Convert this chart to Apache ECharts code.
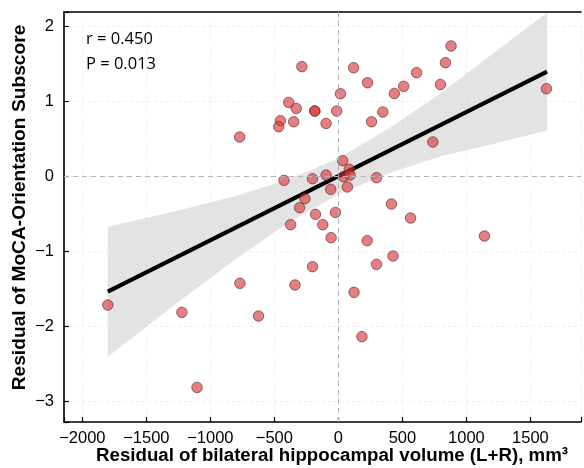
<!DOCTYPE html>
<html>
<head>
<meta charset="utf-8">
<script src="https://cdn.jsdelivr.net/npm/echarts@6/dist/echarts.min.js"></script>
<style>
html,body{margin:0;padding:0;background:#fff;}
#chart{width:584px;height:468px;}
</style>
</head>
<body>
<div id="chart"></div>
<script>
// ---- data ----
const pointX = [-285, 119, 836, 611, 228, 797, 510, 437, 16, 1625,
  -388, -329, -184, -184, -13, 347, -453, -349, -466, -96,
  259, -771, 738, 34, 85, 39, 91, -96, -202, -425,
  298, -60, 70, -261, -303, 414, -179, -23, -373, -122,
  564, -57, 225, 1141, 427, 298, -202, -769, -339, 122,
  -1801, -1222, -624, 184, -1104, 880];
const pointY = [1.467, 1.453, 1.52, 1.387, 1.253, 1.23, 1.205, 1.11, 1.107, 1.173,
  0.99, 0.91, 0.876, 0.876, 0.876, 0.863, 0.747, 0.733, 0.667, 0.71,
  0.733, 0.529, 0.463, 0.213, 0.098, 0.0, 0.022, 0.022, -0.027, -0.049,
  -0.013, -0.169, -0.137, -0.293, -0.413, -0.364, -0.502, -0.476, -0.64, -0.64,
  -0.551, -0.813, -0.853, -0.791, -1.057, -1.169, -1.2, -1.422, -1.444, -1.542,
  -1.711, -1.809, -1.858, -2.133, -2.81, 1.743];

// regression line end points
const lineX = [-1801, 1630];
const lineY = [-1.533, 1.401];

// confidence band
const bandX = [-1801, -1250, -800, -400, 0, 400, 800, 1200, 1630];
const bandUpper = [-0.666, -0.452, -0.257, -0.045, 0.247, 0.649, 1.111, 1.633, 2.186];
const bandLower = [-2.40, -1.672, -1.097, -0.625, -0.233, 0.049, 0.271, 0.433, 0.616];

const statLines = ['r = 0.450', 'P = 0.013'];
const xTitle = 'Residual of bilateral hippocampal volume (L+R), mm\u00B3';
const yTitle = 'Residual of MoCA-Orientation Subscore';

// ---- chart ----
const chart = echarts.init(document.getElementById('chart'), null, {renderer: 'canvas'});

const X_MIN = -2143, X_MAX = 1895, Y_MIN = -3.271, Y_MAX = 2.196;

function fmt(step) {
  return function (v) {
    if (Math.abs(v / step - Math.round(v / step)) > 1e-6) return '';
    const n = Math.round(v);
    return n < 0 ? '\u2212' + Math.abs(n) : String(n);
  };
}

const scatterData = pointX.map((x, i) => [x, pointY[i]]);
const lineData = lineX.map((x, i) => [x, lineY[i]]);

const option = {
  animation: false,
  backgroundColor: '#ffffff',
  grid: {left: 64, top: 12, right: 0, bottom: 46},
  xAxis: [{
    type: 'value', min: X_MIN, max: X_MAX, minInterval: 500, maxInterval: 500, splitNumber: 8,
    axisLine: {show: true, onZero: false, lineStyle: {color: '#000', width: 1.6}},
    axisTick: {show: true, inside: true, length: 5, lineStyle: {color: '#000', width: 1.2}},
    axisLabel: {formatter: fmt(500), color: '#000', fontSize: 16.5, fontFamily: 'Liberation Sans', margin: 8},
    splitLine: {show: true, lineStyle: {color: '#efefef', type: [3, 3], width: 1}}
  }, {
    type: 'value', position: 'top', min: X_MIN, max: X_MAX,
    axisLine: {show: true, onZero: false, lineStyle: {color: '#000', width: 1.6}},
    axisTick: {show: false}, axisLabel: {show: false}, splitLine: {show: false}
  }],
  yAxis: {
    type: 'value', min: Y_MIN, max: Y_MAX, minInterval: 1, maxInterval: 1, splitNumber: 6,
    axisLine: {show: true, onZero: false, lineStyle: {color: '#000', width: 1.6}},
    axisTick: {show: true, inside: true, length: 5, lineStyle: {color: '#000', width: 1.2}},
    axisLabel: {formatter: fmt(1), color: '#000', fontSize: 16.5, fontFamily: 'Liberation Sans', margin: 10},
    splitLine: {show: true, lineStyle: {color: '#efefef', type: [3, 3], width: 1}}
  },
  series: [{
    type: 'custom',
    silent: true,
    z: 1,
    data: [0],
    renderItem: function (params, api) {
      const pts = [];
      for (let i = 0; i < bandX.length; i++) pts.push(api.coord([bandX[i], bandUpper[i]]));
      for (let i = bandX.length - 1; i >= 0; i--) pts.push(api.coord([bandX[i], bandLower[i]]));
      return {type: 'polygon', shape: {points: pts}, style: {fill: 'rgba(200,200,200,0.5)', stroke: 'none'}};
    }
  }, {
    type: 'line',
    data: lineData,
    symbol: 'none',
    z: 3,
    silent: true,
    lineStyle: {color: '#000', width: 4},
    markLine: {
      silent: true, symbol: 'none', label: {show: false},
      lineStyle: {color: '#b3b3b3', type: [5, 4], width: 1},
      data: [{xAxis: 0}, {yAxis: 0}]
    }
  }, {
    type: 'scatter',
    data: scatterData,
    symbolSize: 10.5,
    z: 4,
    itemStyle: {color: 'rgba(215,50,55,0.78)', borderColor: '#5a2626', borderWidth: 0.8}
  }],
  graphic: [
    {type: 'text', x: 86, y: 39.5, style: {text: statLines[0], fontSize: 16.5, fontFamily: 'Open Sans', fill: '#000', verticalAlign: 'middle'}},
    {type: 'text', x: 86, y: 64.5, style: {text: statLines[1], fontSize: 16.5, fontFamily: 'Open Sans', fill: '#000', verticalAlign: 'middle'}},
    {type: 'text', x: 332, y: 456, style: {text: xTitle, fontSize: 18.7, fontWeight: 'bold', fontFamily: 'Liberation Sans', fill: '#000', align: 'center', verticalAlign: 'middle'}},
    {type: 'text', x: 20, y: 207.5, rotation: Math.PI / 2, style: {text: yTitle, fontSize: 19.2, fontWeight: 'bold', fontFamily: 'Liberation Sans', fill: '#000', align: 'center', verticalAlign: 'middle'}}
  ]
};
chart.setOption(option);
</script>
</body>
</html>
